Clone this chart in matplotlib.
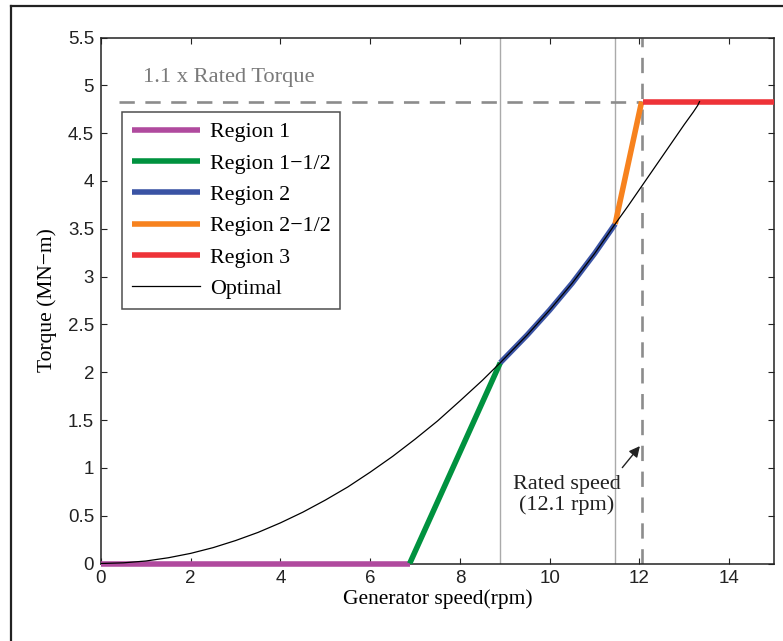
import numpy as np
import matplotlib.pyplot as plt
from matplotlib.lines import Line2D

# generator speed (rpm) / torque (MN-m)
opt_speed = [0, 0.5, 1, 1.5, 2, 2.5, 3, 3.5, 4, 4.5, 5, 5.5, 6, 6.5, 7, 7.5, 8, 8.5, 8.9,
             9.5, 10, 10.5, 11, 11.46, 11.75, 12, 12.25, 12.5, 12.75, 13, 13.2, 13.3, 13.34]
opt_torque = [0, 0.007, 0.026, 0.06, 0.106, 0.166, 0.24, 0.325, 0.425, 0.537, 0.663, 0.80,
              0.955, 1.12, 1.30, 1.49, 1.70, 1.915, 2.10, 2.39, 2.65, 2.93, 3.24, 3.55,
              3.74, 3.91, 4.08, 4.25, 4.42, 4.59, 4.72, 4.79, 4.83]

r1_speed = [0, 6.88]
r1_torque = [0, 0]
r15_speed = [6.88, 8.9]
r15_torque = [0, 2.10]
r2_speed = [8.9, 9.5, 10, 10.5, 11, 11.46]
r2_torque = [2.10, 2.39, 2.65, 2.93, 3.24, 3.55]
r25_speed = [11.46, 12.05]
r25_torque = [3.55, 4.83]
r3_speed = [12.08, 15]
r3_torque = [4.83, 4.83]

max_torque = 4.83      # 1.1 x rated torque
rated_speed = 12.05
region_bounds = [8.9, 11.46]

serif = ['Liberation Serif', 'DejaVu Serif']
sans = ['Liberation Sans', 'DejaVu Sans']

fig = plt.figure(figsize=(7.83, 6.41), dpi=100)
ax = fig.add_axes([101 / 783, 1 - 563.5 / 641, (774 - 101) / 783, (563.5 - 37.5) / 641])

# frame around the figure
fig.add_artist(Line2D([11 / 783, 11 / 783], [0, 1 - 6 / 641], color='#222222', lw=1.6))
fig.add_artist(Line2D([11 / 783, 1], [1 - 6 / 641, 1 - 6 / 641], color='#222222', lw=1.6))

gray_dash = dict(color='#8c8c8c', lw=1.9, dashes=(5.8, 4.0))
for b in region_bounds:
    ax.axvline(b, color='#aaaaaa', lw=1.0, zorder=1)
ax.plot([0.4, rated_speed], [max_torque, max_torque], zorder=1, **gray_dash)
ax.plot([rated_speed, rated_speed], [0, 5.5], zorder=1, **gray_dash)

lw = 4
ax.plot(r1_speed, r1_torque, color='#b04a9e', lw=lw, solid_capstyle='butt', label='Region 1',
        zorder=3, clip_on=False)
ax.plot(r15_speed, r15_torque, color='#00923f', lw=lw, solid_capstyle='butt', label='Region 1\u22121/2', zorder=3)
ax.plot(r2_speed, r2_torque, color='#3a53a4', lw=lw, solid_capstyle='butt', label='Region 2', zorder=3)
ax.plot(r25_speed, r25_torque, color='#f7821e', lw=lw, solid_capstyle='butt', label='Region 2\u22121/2', zorder=3)
ax.plot(r3_speed, r3_torque, color='#ee3338', lw=lw, solid_capstyle='butt', label='Region 3', zorder=3)
ax.plot(opt_speed, opt_torque, color='black', lw=0.9, label='Optimal', zorder=4)

ax.text(0.93, 5.08, '1.1 x Rated Torque', color='#7a7a7a', fontsize=16.2,
        family=serif, ha='left', va='center')
ax.text(10.38, 0.72, 'Rated speed\n(12.1 rpm)', color='#222222', fontsize=16,
        family=serif, ha='center', va='center', linespacing=1.1)
ax.annotate('', xy=(12.05, 1.25), xytext=(11.58, 0.98),
            arrowprops=dict(arrowstyle='-|>', color='#222222', lw=1.0, mutation_scale=16))

ax.set_xlim(0, 15)
ax.set_ylim(0, 5.5)
ax.set_xticks(np.arange(0, 15, 2))
ax.set_yticks(np.arange(0, 5.51, 0.5))
ax.set_yticklabels(['0', '0.5', '1', '1.5', '2', '2.5', '3', '3.5', '4', '4.5', '5', '5.5'])
ax.tick_params(direction='in', length=4, width=0.8, top=True, right=True,
               labelsize=13.5, colors='#222222', pad=5)
for lab in ax.get_xticklabels() + ax.get_yticklabels():
    lab.set_family(sans)
for s in ax.spines.values():
    s.set_color('#222222')
    s.set_linewidth(1.1)

ax.set_xlabel('Generator speed(rpm)', fontsize=15.5, family=serif, labelpad=1)
ax.set_ylabel('Torque (MN\u2212m)', fontsize=15.5, family=serif, labelpad=8)

leg = ax.legend(loc='upper left', bbox_to_anchor=(0.031, 0.858), prop={'family': serif, 'size': 15.8},
                frameon=True, fancybox=False, edgecolor='#222222', handlelength=3.1,
                labelspacing=0.5, borderpad=0.45, handletextpad=0.45, borderaxespad=0)
leg.get_frame().set_linewidth(1.1)
leg.set_zorder(5)

fig.savefig('out.png', dpi=100)
